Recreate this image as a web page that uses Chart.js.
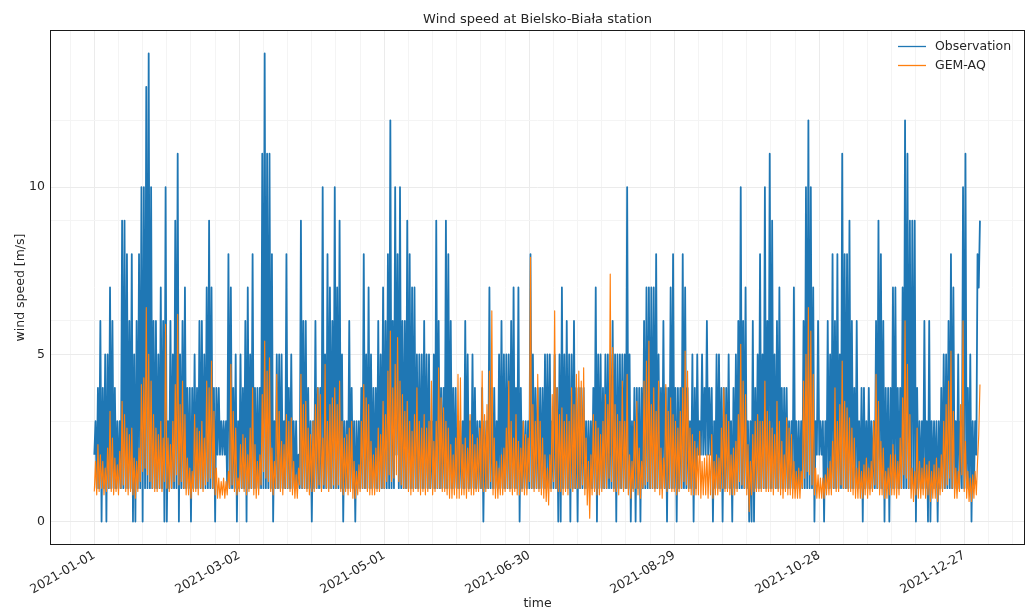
<!DOCTYPE html>
<html>
<head>
<meta charset="utf-8">
<script src="https://cdn.jsdelivr.net/npm/chart.js@4.4.1/dist/chart.umd.min.js"></script>
<style>
  html, body { margin: 0; padding: 0; background: #ffffff; }
  #wrap { width: 1033px; height: 610px; }
</style>
</head>
<body>
<div id="wrap"><canvas id="chart" width="1033" height="610"></canvas></div>
<script>
// Hourly wind speed at Bielsko-Biała, 2021, summarised per day as
// (daily low, daily high) pairs; day 0 = 2021-01-01.
const startDate = '2021-01-01';
const dateTickLabels = ['2021-01-01', '2021-03-02', '2021-05-01', '2021-06-30', '2021-08-29', '2021-10-28', '2021-12-27'];
const yTickLabels = [0, 5, 10];
const yMinorLines = [3, 6, 9, 12];
const seriesNames = ['Observation', 'GEM-AQ'];

// Observation [m/s]
const obsHigh = [
  3,4,6,4,5,5,7,6,4,3,
  3,9,9,8,6,8,5,6,8,10,
  10,13,14,10,6,6,5,7,6,10,
  3,6,5,9,11,5,6,7,4,4,
  4,5,4,6,6,5,7,9,7,4,
  4,4,3,3,3,8,7,4,5,3,
  5,4,6,7,5,8,4,4,4,11,
  14,11,11,8,3,5,5,5,3,8,
  4,5,3,3,2,9,6,6,4,3,
  3,6,4,4,10,5,8,7,6,10,
  7,9,5,3,3,6,4,3,3,3,
  4,8,5,7,5,4,4,6,5,7,
  6,8,12,6,10,8,10,6,6,9,
  8,7,7,5,5,5,6,5,5,3,
  5,9,6,4,4,9,8,6,4,4,
  3,3,3,6,5,3,5,4,3,3,
  4,3,3,7,4,4,3,5,6,5,
  5,5,6,7,4,7,4,3,3,3,
  8,5,4,4,4,4,5,5,5,3,
  5,4,5,7,5,6,5,5,6,4,
  4,4,4,3,3,3,4,7,5,5,
  4,5,5,5,6,5,5,5,5,5,
  10,5,3,4,4,4,4,6,7,7,
  7,7,8,5,4,6,4,4,7,8,
  4,4,4,8,7,4,3,5,4,5,
  3,5,4,6,4,4,3,5,5,4,
  4,4,5,3,4,5,6,10,6,7,
  3,3,6,4,5,8,5,10,6,11,
  9,5,6,7,4,4,4,3,3,7,
  3,3,3,6,10,12,10,7,3,6,
  3,3,3,6,5,8,6,8,5,11,
  8,8,9,6,4,6,3,4,4,3,
  4,3,3,6,9,8,6,4,4,4,
  7,7,4,4,7,12,11,9,9,9,
  4,3,3,6,3,6,3,3,3,3,
  4,5,5,6,8,7,3,5,3,10,
  11,4,5,3,3,8,9
];
const obsLow = [
  2,1,1,0,1,0,1,1,1,1,
  1,1,1,1,1,1,0,0,1,1,
  0,1,1,1,1,1,1,1,1,0,
  0,1,1,1,1,0,1,1,1,1,
  0,1,1,1,1,1,1,1,1,1,
  0,2,2,2,2,1,1,1,1,0,
  1,1,1,0,1,1,1,1,1,1,
  1,1,1,1,0,1,1,1,1,1,
  1,1,1,1,1,1,1,1,1,1,
  0,1,1,1,1,1,1,1,1,1,
  1,1,1,0,1,1,1,1,0,1,
  1,1,1,1,1,1,1,1,1,1,
  1,1,1,1,1,2,1,1,1,1,
  1,1,1,1,1,1,1,1,1,1,
  1,1,1,1,1,1,1,1,1,1,
  1,1,1,1,1,1,1,1,1,1,
  1,0,1,1,1,1,1,1,1,1,
  1,1,1,1,1,1,0,1,1,1,
  1,1,1,1,1,1,1,1,1,1,
  1,1,0,0,1,1,1,0,1,1,
  0,1,1,1,1,1,1,1,0,1,
  1,1,1,1,1,1,0,1,1,1,
  1,1,0,1,0,1,0,1,1,1,
  1,1,1,1,1,1,1,0,1,1,
  1,0,1,1,1,1,1,1,0,1,
  2,2,2,2,2,2,0,1,1,1,
  0,1,1,1,0,1,1,1,1,1,
  1,0,0,0,1,1,1,1,1,1,
  1,1,1,1,1,1,1,1,1,1,
  1,1,1,1,1,1,1,1,0,2,
  2,2,0,1,1,1,1,1,1,1,
  1,1,1,1,1,1,1,1,0,1,
  1,1,1,1,1,1,1,0,1,0,
  1,1,1,1,1,1,1,1,1,1,
  0,1,1,1,1,0,0,1,1,0,
  1,1,1,1,1,1,1,1,1,1,
  1,1,1,0,1,2,7
];

// GEM-AQ model [m/s]
const gemHigh = [
  1.8,2.3,2.0,1.8,1.6,2.2,3.3,2.5,1.9,1.7,
  2.1,3.6,3.2,2.8,2.6,2.8,1.9,1.8,2.2,4.1,
  4.3,6.4,5.0,4.2,3.2,2.8,2.6,3.0,2.5,5.9,
  2.5,2.3,3.0,4.1,6.2,3.5,4.2,3.2,1.9,1.6,
  1.5,3.2,2.8,2.7,3.0,2.5,4.2,4.0,4.8,3.3,
  1.6,1.3,1.2,1.3,1.2,1.5,4.7,3.3,2.8,1.3,
  2.3,2.6,2.5,2.0,2.8,4.0,2.3,1.8,2.0,3.8,
  5.4,4.5,4.9,2.2,1.8,4.4,3.3,2.4,2.3,3.2,
  3.0,3.1,1.8,1.4,1.6,4.4,3.5,3.6,2.8,2.6,
  3.0,3.5,4.0,3.8,2.5,4.7,3.0,3.5,3.7,4.0,
  3.5,4.2,3.0,2.5,2.6,2.8,3.0,1.8,1.5,1.7,
  3.0,4.1,3.7,3.5,2.4,2.0,2.2,2.8,2.6,3.6,
  3.2,4.5,5.7,4.0,4.7,5.5,4.2,3.8,3.3,3.6,
  3.0,2.7,3.2,4.0,3.0,2.8,3.2,2.8,3.0,4.2,
  2.4,3.0,4.6,3.7,3.4,3.0,2.8,2.3,2.0,2.5,
  4.4,4.3,2.3,2.5,2.2,3.2,2.6,2.3,2.5,2.8,
  4.5,3.2,3.5,4.5,6.3,2.5,1.8,1.6,2.0,2.2,
  2.8,4.2,3.0,2.5,3.2,2.4,2.2,3.0,2.6,2.5,
  7.9,3.5,3.0,4.4,3.0,2.5,2.0,1.6,2.0,3.8,
  6.3,4.0,3.2,3.4,3.0,3.2,3.0,4.0,3.5,4.4,
  4.5,4.2,4.6,2.5,1.8,2.0,3.2,3.0,2.8,2.6,
  3.0,3.8,3.5,7.4,5.2,3.5,3.2,3.0,4.2,3.0,
  4.4,2.0,1.8,3.0,3.6,2.2,1.8,4.2,4.8,5.4,
  3.5,4.0,3.3,4.2,2.2,1.9,4.1,3.3,3.7,3.2,
  3.0,2.8,3.3,4.0,5.1,4.5,2.8,2.6,2.4,2.2,
  2.7,1.8,1.9,2.0,2.0,2.6,1.8,2.0,1.9,2.8,
  4.0,3.2,3.0,2.0,2.2,2.4,3.2,5.3,4.2,3.8,
  2.3,1.8,2.6,3.0,3.2,3.0,3.0,4.2,3.3,3.0,
  2.8,2.6,3.6,3.0,2.4,2.0,3.1,2.8,2.6,1.8,
  1.5,1.6,1.5,4.2,5.0,6.4,5.7,4.4,1.6,1.4,
  1.3,1.3,1.4,1.6,1.8,2.4,4.0,3.0,3.5,4.8,
  3.6,3.4,3.1,2.8,2.5,1.6,1.8,1.5,1.7,1.9,
  1.6,1.8,3.0,4.4,3.6,2.4,2.2,1.5,1.6,2.0,
  2.3,2.0,1.8,2.5,3.7,6.0,4.7,3.2,1.6,1.5,
  2.8,1.8,1.6,1.9,1.7,1.8,1.5,1.7,1.9,1.6,
  2.0,3.0,3.5,4.2,5.1,3.3,1.6,1.5,3.5,6.0,
  2.4,1.5,1.3,1.4,1.5,1.8,4.1
];
const gemLow = [
  0.9,0.8,0.9,1.0,0.8,0.9,1.0,0.9,0.8,0.9,
  0.8,1.0,1.1,0.9,0.8,0.9,0.8,0.7,0.9,1.2,
  1.5,1.6,1.4,1.2,1.0,0.9,0.9,1.0,0.9,1.2,
  1.0,0.9,1.0,1.2,1.4,1.1,1.2,1.0,0.8,0.8,
  0.7,0.9,0.9,0.8,1.0,0.9,1.1,1.2,1.3,1.0,
  0.8,0.7,0.7,0.8,0.7,0.8,1.0,1.1,0.9,0.8,
  0.9,1.0,0.9,0.8,0.9,1.0,0.8,0.7,0.8,1.1,
  1.5,1.3,1.2,0.9,0.8,1.0,1.0,0.9,0.8,1.0,
  1.0,0.9,0.8,0.7,0.7,1.1,1.0,1.0,0.9,0.8,
  0.9,0.9,1.0,1.1,0.9,1.1,1.0,0.9,1.0,1.1,
  1.0,1.1,0.9,0.8,0.9,0.8,0.9,0.7,0.7,0.8,
  0.9,1.0,1.0,0.9,0.8,0.8,0.8,0.9,0.9,1.0,
  1.0,1.2,1.4,1.2,1.3,1.4,1.2,1.1,1.0,1.0,
  0.9,0.8,0.9,1.0,0.9,0.8,0.9,0.8,0.9,1.0,
  0.8,0.9,1.0,1.0,0.9,0.9,0.8,0.7,0.7,0.8,
  0.7,0.7,0.8,0.8,0.7,0.9,0.8,0.8,0.9,0.9,
  1.0,0.9,0.9,1.0,1.2,0.8,0.7,0.7,0.8,0.8,
  0.9,1.0,0.9,0.8,0.9,0.8,0.8,0.9,0.8,0.8,
  1.2,1.0,0.9,1.0,0.9,0.8,0.7,0.6,0.5,0.9,
  1.2,1.0,0.9,0.9,0.8,0.9,0.8,1.0,0.9,1.0,
  1.0,1.0,1.1,0.8,0.5,0.1,0.8,0.9,0.8,0.8,
  0.9,1.0,1.0,1.3,1.2,0.9,0.9,0.8,1.0,0.9,
  1.0,0.8,0.7,0.9,1.0,0.8,0.7,1.0,1.1,1.2,
  1.0,1.0,0.9,1.0,0.8,0.7,1.0,0.9,1.0,0.9,
  0.9,0.8,0.9,1.0,1.2,1.1,0.9,0.8,0.8,0.8,
  0.8,0.7,0.8,0.8,0.7,0.8,0.7,0.8,0.8,0.9,
  1.0,0.9,0.9,0.8,0.8,0.8,0.9,1.2,1.1,1.0,
  0.8,0.3,0.8,0.9,0.9,0.9,0.9,1.0,0.9,0.9,
  0.9,0.8,1.0,0.9,0.8,0.7,0.9,0.8,0.8,0.7,
  0.7,0.7,0.7,1.0,1.3,1.5,1.4,1.1,0.8,0.7,
  0.7,0.7,0.7,0.8,0.8,0.8,1.0,0.9,0.9,1.1,
  1.0,1.0,0.9,0.9,0.8,0.7,0.7,0.7,0.7,0.8,
  0.7,0.8,0.9,1.1,1.0,0.8,0.8,0.7,0.7,0.8,
  0.8,0.8,0.7,0.8,1.0,1.4,1.3,1.0,0.7,0.6,
  0.8,0.7,0.7,0.8,0.7,0.8,0.6,0.7,0.7,0.6,
  0.8,0.9,1.0,1.1,1.3,1.0,0.7,0.7,0.9,1.4,
  0.9,0.7,0.6,0.6,0.7,0.8,2.6
];

const DAY_MS = 86400000;
const t0 = Date.parse(startDate);
const dayOf = (s) => (Date.parse(s) - t0) / DAY_MS;
const majorDays = dateTickLabels.map(dayOf);
const labelFor = (d) => dateTickLabels[majorDays.indexOf(d)];

// Each day contributes its low then its high, half a day apart.
function dailyPath(low, high) {
  const pts = [];
  for (let i = 0; i < low.length; i++) {
    pts.push({ x: i, y: low[i] });
    pts.push({ x: i + 0.5, y: high[i] });
  }
  return pts;
}

const TEXT = '#262626';
const GRID_MAJOR = '#ebebeb';
const GRID_MINOR = '#f4f4f4';
const FONT = "'DejaVu Sans', sans-serif";
const COLORS = ['#1f77b4', '#ff7f0e'];
Chart.defaults.font.family = FONT;
Chart.defaults.font.size = 12.5;
Chart.defaults.color = TEXT;

// Axes frame and the in-plot key (top right).
const frameAndKey = {
  id: 'frameAndKey',
  afterDraw(chart) {
    const { ctx, chartArea: a } = chart;
    ctx.save();
    ctx.strokeStyle = '#1a1a1a';
    ctx.lineWidth = 1;
    ctx.strokeRect(a.left + 0.5, a.top + 0.5, a.right - a.left - 1, a.bottom - a.top - 1);
    ctx.font = '12.5px ' + FONT;
    ctx.textBaseline = 'middle';
    ctx.textAlign = 'left';
    seriesNames.forEach((name, i) => {
      const y = a.top + 16.5 + i * 19;
      ctx.strokeStyle = COLORS[i];
      ctx.lineWidth = 1.3;
      ctx.beginPath();
      ctx.moveTo(a.right - 127, y);
      ctx.lineTo(a.right - 99, y);
      ctx.stroke();
      ctx.fillStyle = TEXT;
      ctx.fillText(name, a.right - 90, y);
    });
    ctx.restore();
  }
};

new Chart(document.getElementById('chart'), {
  type: 'line',
  data: {
    datasets: [
      // higher "order" is painted first, so the model line sits on top
      { label: seriesNames[0], order: 2, data: dailyPath(obsLow, obsHigh), borderColor: COLORS[0], borderWidth: 1.8, borderJoinStyle: 'round', pointRadius: 0, tension: 0, fill: false },
      { label: seriesNames[1], order: 1, data: dailyPath(gemLow, gemHigh), borderColor: COLORS[1], borderWidth: 1.15, borderJoinStyle: 'round', pointRadius: 0, tension: 0, fill: false }
    ]
  },
  options: {
    responsive: false,
    animation: false,
    devicePixelRatio: 1,
    parsing: false,
    normalized: true,
    events: [],
    layout: { padding: { left: 0, right: 8, top: 0, bottom: 0 } },
    plugins: {
      legend: { display: false },
      tooltip: { enabled: false },
      title: {
        display: true,
        text: 'Wind speed at Bielsko-Biała station',
        fullSize: false,
        color: TEXT,
        font: { size: 13, weight: 'normal', family: FONT },
        padding: { top: 12, bottom: 2.4 }
      }
    },
    scales: {
      x: {
        type: 'linear',
        min: -18.34,
        max: 385.14,
        afterBuildTicks: (s) => {
          const t = [];
          for (let d = -10; d <= 380; d += 10) t.push({ value: d });
          s.ticks = t;
        },
        afterFit: (s) => { s.height = 65; },
        ticks: {
          autoSkip: false,
          minRotation: 30,
          maxRotation: 30,
          padding: 3,
          labelOffset: 0,
          color: TEXT,
          callback: (v) => (majorDays.includes(v) ? labelFor(v) : '')
        },
        grid: {
          drawTicks: false,
          lineWidth: 1,
          color: (c) => (c.tick && majorDays.includes(c.tick.value) ? GRID_MAJOR : GRID_MINOR)
        },
        border: { display: false },
        title: { display: true, text: 'time', color: TEXT, padding: { top: 0, bottom: -1 } }
      },
      y: {
        type: 'linear',
        min: -0.7,
        max: 14.7,
        afterBuildTicks: (s) => {
          s.ticks = yTickLabels.concat(yMinorLines).sort((a, b) => a - b).map((v) => ({ value: v }));
        },
        afterFit: (s) => { s.width = 50; },
        ticks: {
          autoSkip: false,
          padding: 5,
          color: TEXT,
          callback: (v) => (yTickLabels.includes(v) ? String(v) : '')
        },
        grid: {
          drawTicks: false,
          lineWidth: 1,
          color: (c) => (c.tick && yTickLabels.includes(c.tick.value) ? GRID_MAJOR : GRID_MINOR)
        },
        border: { display: false },
        title: { display: true, text: 'wind speed [m/s]', color: TEXT, padding: { top: 13.5, bottom: 0 } }
      }
    }
  },
  plugins: [frameAndKey]
});
</script>
</body>
</html>
